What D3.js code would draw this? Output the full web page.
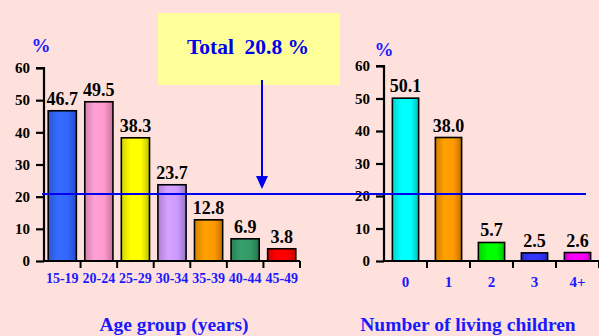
<!DOCTYPE html>
<html>
<head>
<meta charset="utf-8">
<script src="https://cdn.jsdelivr.net/npm/d3@7"></script>
<style>
  body { margin: 0; background: #fee1dc; }
  svg text { font-family: "Liberation Serif", "Times New Roman", serif; font-weight: bold; }
</style>
</head>
<body>
<script>
// data
var ageGroups = ['15-19', '20-24', '25-29', '30-34', '35-39', '40-44', '45-49'];
var ageValues = [46.7, 49.5, 38.3, 23.7, 12.8, 6.9, 3.8];
var ageColors = ['#3366ff', '#ff99cc', '#ffff00', '#cc99ff', '#ff9900', '#339966', '#ff0000'];

var childGroups = ['0', '1', '2', '3', '4+'];
var childValues = [50.1, 38.0, 5.7, 2.5, 2.6];
var childColors = ['#00ffff', '#ff9900', '#00ff00', '#3333ff', '#ff00ff'];

var yTicks = [0, 10, 20, 30, 40, 50, 60];
var total = 20.8;

var width = 599, height = 336;

var svg = d3.select('body').append('svg')
    .attr('width', width)
    .attr('height', height);

svg.append('rect').attr('width', width).attr('height', height).attr('fill', '#fee1dc');

var defs = svg.append('defs');

//shaded bar fill: darker edges, light centre
function gradFor(color, id) {
  var g = defs.append('linearGradient').attr('id', id)
      .attr('x1', '0%').attr('x2', '100%').attr('y1', '0%').attr('y2', '0%');
  var c = d3.color(color);
  g.append('stop').attr('offset', '0%').attr('stop-color', c.darker(0.5));
  g.append('stop').attr('offset', '35%').attr('stop-color', c.brighter(0.15));
  g.append('stop').attr('offset', '70%').attr('stop-color', c);
  g.append('stop').attr('offset', '100%').attr('stop-color', c.darker(0.8));
  return 'url(#' + id + ')';
}

function drawChart(opt) {
  var x = d3.scaleBand()
      .domain(opt.cats)
      .range(opt.xRange)
      .paddingInner(opt.pad)
      .paddingOuter(opt.pad / 2);
  var y = d3.scaleLinear().domain([0, 60]).range(opt.yRange);
  var step = x.step(), bw = x.bandwidth();
  var g = svg.append('g');

  //bars
  g.selectAll('.bar')
      .data(opt.values)
      .enter().append('rect')
      .attr('x', function(d, i) { return x(opt.cats[i]); })
      .attr('y', function(d) { return y(d); })
      .attr('width', bw)
      .attr('height', function(d) { return y(0) - y(d); })
      .attr('fill', function(d, i) { return gradFor(opt.colors[i], opt.id + i); })
      .attr('stroke', '#000')
      .attr('stroke-width', 1.6);

  //value labels
  g.selectAll('.val')
      .data(opt.values)
      .enter().append('text')
      .attr('x', function(d, i) { return x(opt.cats[i]) + bw / 2; })
      .attr('y', function(d) { return y(d) - 6; })
      .attr('text-anchor', 'middle')
      .attr('font-size', 18)
      .attr('fill', '#000')
      .text(function(d) { return d.toFixed(1); });

  //y axis
  var yAxis = d3.axisLeft(y).tickValues(yTicks).tickSize(8).tickPadding(6);
  var ya = g.append('g').attr('transform', 'translate(' + opt.xRange[0] + ',0)').call(yAxis);
  ya.select('.domain').attr('stroke', '#000').attr('stroke-width', 2.2).attr('d', 'M-8,' + y(60) + 'H0V' + y(0));
  ya.selectAll('.tick line').attr('stroke', '#000').attr('stroke-width', 2.2);
  ya.selectAll('.tick text').attr('font-size', 15).attr('fill', '#000')
      .style('font-family', '"Liberation Serif", serif').style('font-weight', 'bold');

  //x baseline with boundary ticks
  g.append('line')
      .attr('x1', opt.xRange[0]).attr('x2', opt.xRange[1])
      .attr('y1', y(0)).attr('y2', y(0))
      .attr('stroke', '#000').attr('stroke-width', 2.2);
  var bounds = opt.cats.map(function(c) { return x(c) - (step - bw) / 2; });
  bounds.push(opt.xRange[1]);
  g.selectAll('.xt')
      .data(bounds.slice(1))
      .enter().append('line')
      .attr('x1', function(d) { return d; }).attr('x2', function(d) { return d; })
      .attr('y1', y(0)).attr('y2', y(0) + 7)
      .attr('stroke', '#000').attr('stroke-width', 2);

  //category labels
  g.selectAll('.cat')
      .data(opt.cats)
      .enter().append('text')
      .attr('x', function(d) { return x(d) + bw / 2; })
      .attr('y', opt.catY)
      .attr('text-anchor', 'middle')
      .attr('font-size', opt.catSize)
      .attr('fill', '#1a1aff')
      .text(function(d) { return d; });

  //percent sign
  g.append('text')
      .attr('x', opt.pctX).attr('y', opt.pctY)
      .attr('text-anchor', 'middle')
      .attr('font-size', 19)
      .attr('fill', '#1a1aff')
      .text('%');

  //axis title
  g.append('text')
      .attr('x', opt.titleX).attr('y', opt.titleY)
      .attr('text-anchor', 'middle')
      .attr('font-size', 19.5)
      .attr('fill', '#1a1aff')
      .text(opt.title);

  return y;
}

var yLeft = drawChart({
  id: 'a', cats: ageGroups, values: ageValues, colors: ageColors,
  xRange: [44, 300], yRange: [261, 68], pad: 0.23,
  catY: 283, catSize: 14, pctX: 41, pctY: 52,
  title: 'Age group (years)', titleX: 174, titleY: 331
});

drawChart({
  id: 'b', cats: childGroups, values: childValues, colors: childColors,
  xRange: [384, 599], yRange: [261, 66], pad: 0.39,
  catY: 287, catSize: 15, pctX: 384, pctY: 56,
  title: 'Number of living children', titleX: 468, titleY: 331
});

//total box
svg.append('rect')
    .attr('x', 158).attr('y', 13)
    .attr('width', 182).attr('height', 72)
    .attr('fill', '#ffff99');
svg.append('text')
    .attr('x', 248).attr('y', 54)
    .attr('text-anchor', 'middle')
    .attr('font-size', 21.5)
    .attr('fill', '#0000ee')
    .style('white-space', 'pre')
    .text('Total  ' + total + ' %');

//total reference line
var ty = yLeft(total);
svg.append('line')
    .attr('x1', 42).attr('x2', 586)
    .attr('y1', ty).attr('y2', ty)
    .attr('stroke', '#0000ee').attr('stroke-width', 2);

//arrow from box
svg.append('line')
    .attr('x1', 262).attr('x2', 262)
    .attr('y1', 80).attr('y2', 178)
    .attr('stroke', '#0000ee').attr('stroke-width', 2);
svg.append('path')
    .attr('d', 'M256,176L268,176L262,189Z')
    .attr('fill', '#0000ee');
</script>
</body>
</html>
